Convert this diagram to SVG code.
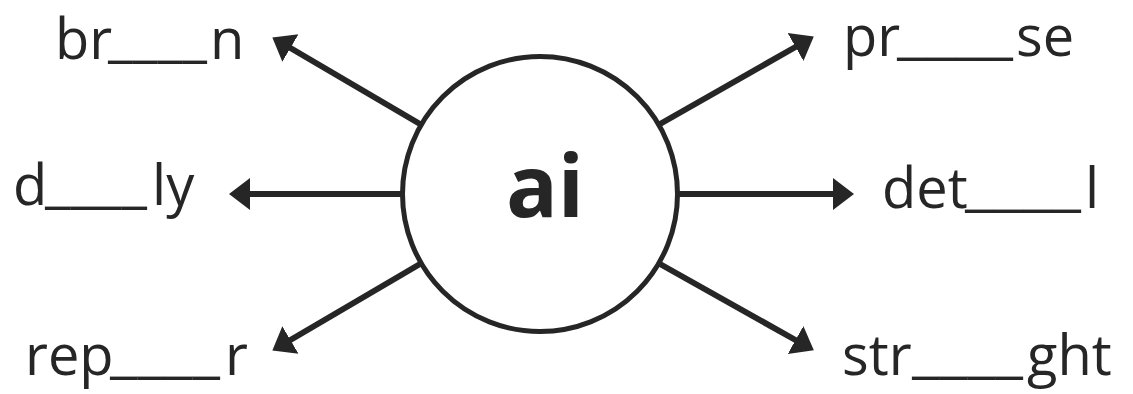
<svg xmlns="http://www.w3.org/2000/svg" width="1133" height="394" viewBox="0 0 1133 394">
<style>
.lbl{font-family:"Open Sans","Liberation Sans",sans-serif;font-size:56px;fill:#262626}
.blank{}
.conn{stroke:#262626;stroke-width:6;fill:none}
.hub{fill:#ffffff;stroke:#262626;stroke-width:5}
.hubtxt{font-family:"Open Sans","Liberation Sans",sans-serif;font-size:86px;font-weight:bold;fill:#262626}
</style>
<defs>
<marker id="ah" markerUnits="userSpaceOnUse" markerWidth="22" markerHeight="34" viewBox="0 0 22 34" refX="4" refY="17" orient="auto">
<path d="M0,1 L21,17 L0,33 Z" fill="#262626"/>
</marker>
</defs>
<rect width="1133" height="394" fill="#ffffff"/>
<g id="connectors">
<line class="conn" x1="420" y1="124" x2="287" y2="46" marker-end="url(#ah)"/>
<line class="conn" x1="403" y1="194" x2="246" y2="194" marker-end="url(#ah)"/>
<line class="conn" x1="420" y1="264" x2="287" y2="342" marker-end="url(#ah)"/>
<line class="conn" x1="660" y1="124" x2="799" y2="45" marker-end="url(#ah)"/>
<line class="conn" x1="677" y1="194" x2="837" y2="194" marker-end="url(#ah)"/>
<line class="conn" x1="660" y1="264" x2="799" y2="342" marker-end="url(#ah)"/>
</g>
<g id="hub">
<circle class="hub" cx="540" cy="194" r="137.5"/>
<text class="hubtxt" x="545" y="217" text-anchor="middle">ai</text>
</g>
<g id="w-brain">
<text class="lbl" x="55" y="59">br<tspan x="108" dy="-4" textLength="99" lengthAdjust="spacingAndGlyphs">____</tspan><tspan x="210" dy="4">n</tspan></text>
</g>
<g id="w-daily">
<text class="lbl" x="13" y="205">d<tspan x="45" dy="-4" textLength="102" lengthAdjust="spacingAndGlyphs">____</tspan><tspan x="152" dy="4">ly</tspan></text>
</g>
<g id="w-repair">
<text class="lbl" x="25" y="375">rep<tspan x="110" dy="-4" textLength="110" lengthAdjust="spacingAndGlyphs">____</tspan><tspan x="225" dy="4">r</tspan></text>
</g>
<g id="w-praise">
<text class="lbl" x="843" y="56">pr<tspan x="897" dy="-4" textLength="116" lengthAdjust="spacingAndGlyphs">____</tspan><tspan x="1016" dy="4">se</tspan></text>
</g>
<g id="w-detail">
<text class="lbl" x="882" y="208">det<tspan x="965" dy="-4" textLength="116" lengthAdjust="spacingAndGlyphs">____</tspan><tspan x="1085" dy="4">l</tspan></text>
</g>
<g id="w-straight">
<text class="lbl" x="842" y="375">str<tspan x="912" dy="-4" textLength="111" lengthAdjust="spacingAndGlyphs">____</tspan><tspan x="1027" dy="4">ght</tspan></text>
</g>
</svg>
